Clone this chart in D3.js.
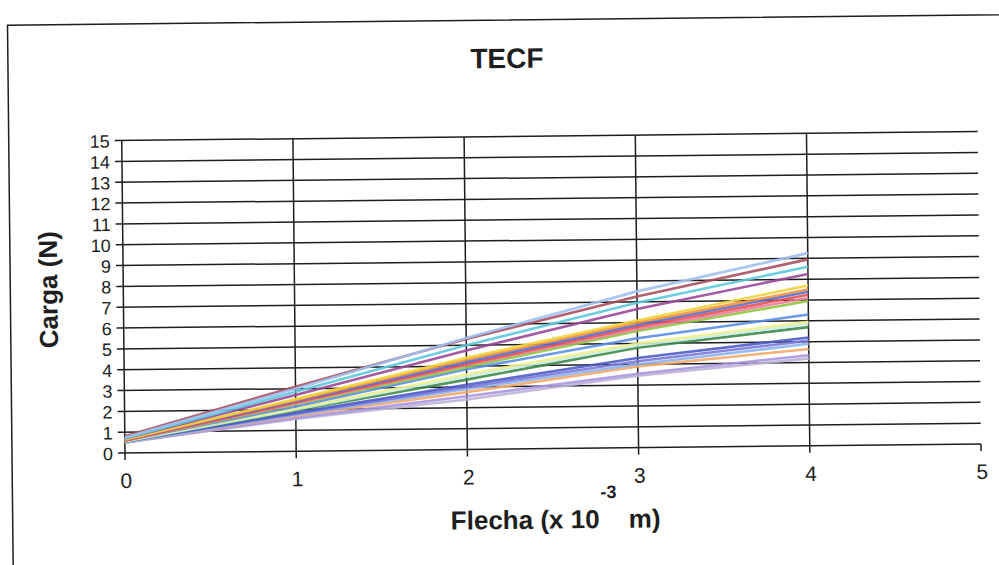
<!DOCTYPE html>
<html>
<head>
<meta charset="utf-8">
<script src="https://cdn.jsdelivr.net/npm/d3@7"></script>
<style>
	html, body { margin: 0; padding: 0; background: #fff; }
	svg { display: block; font-family: "Liberation Sans", Arial, sans-serif; }
</style>
</head>
<body>
<svg width="999" height="565"></svg>
<script>
(function(){
	'use strict';

	// Flecha (x 10^-3 m) at which each test was read
	const flecha = [0, 1, 2, 3, 4];

	// Carga (N) per specimen
	const cargas = [
		[0.75, 3.00, 5.35, 7.50, 9.25],
		[0.80, 3.10, 5.30, 7.25, 8.95],
		[0.70, 2.85, 5.00, 6.95, 8.60],
		[0.70, 2.70, 4.75, 6.65, 8.25],
		[0.65, 2.50, 4.40, 6.10, 7.70],
		[0.65, 2.45, 4.30, 6.00, 7.50],
		[0.65, 2.40, 4.20, 5.90, 7.40],
		[0.60, 2.35, 4.10, 5.80, 7.25],
		[0.60, 2.30, 4.05, 5.70, 7.10],
		[0.60, 2.25, 3.95, 5.60, 6.95],
		[0.60, 2.15, 3.85, 5.25, 6.30],
		[0.60, 2.05, 3.60, 5.00, 5.95],
		[0.55, 2.00, 3.50, 4.90, 5.85],
		[0.55, 1.95, 3.35, 4.80, 5.70],
		[0.55, 1.85, 3.10, 4.30, 5.20],
		[0.55, 1.80, 3.00, 4.15, 5.05],
		[0.50, 1.75, 2.90, 4.00, 4.90],
		[0.50, 1.70, 2.75, 3.90, 4.65],
		[0.50, 1.60, 2.55, 3.55, 4.35],
		[0.50, 1.55, 2.40, 3.45, 4.20]
	];

	const xTicks = [0, 1, 2, 3, 4, 5];
	const yTicks = d3.range(0, 16);

	const lineColors = [
		'#9fc0ee', '#a85060', '#5cc8dc', '#9a4896', '#f2d23c',
		'#f4903c', '#4a70e0', '#e8504c', '#f27aa0', '#8cc83c',
		'#5a8ee8', '#eef08c', '#c8ecec', '#3e8a4a', '#4e5cc8',
		'#7a78d8', '#8cb4f0', '#f4a868', '#a896e0', '#beb2d6'
	];

	const svg = d3.select('svg');
	const left = 125;
	const right = 981;
	const top = 140.5;
	const bottom = 453;
	const ink = '#1e1e1e';

	// the scan is slightly tilted
	const g = svg
		.append('g')
			.attr('transform', `rotate(-0.6, ${left}, ${bottom})`);

	g.append('rect')
		.attr('x', 12)
		.attr('y', 24)
		.attr('width', 1300)
		.attr('height', 800)
		.attr('fill', 'none')
		.attr('stroke', ink)
		.attr('stroke-width', 1.5);

	const x = d3.scaleLinear()
		.domain([0, 5])
		.range([left, right]);

	const y = d3.scaleLinear()
		.domain([0, 15])
		.range([bottom, top]);

	// horizontal grid
	g.append('g')
		.selectAll('line')
		.data(yTicks)
		.join('line')
			.attr('x1', left - 7)
			.attr('x2', right)
			.attr('y1', d => y(d))
			.attr('y2', d => y(d))
			.attr('stroke', ink)
			.attr('stroke-width', 1.5);

	// vertical grid (axis at 0, nothing at 5)
	g.append('g')
		.selectAll('line')
		.data(xTicks.slice(0, 5))
		.join('line')
			.attr('x1', d => x(d))
			.attr('x2', d => x(d))
			.attr('y1', top)
			.attr('y2', bottom + 7)
			.attr('stroke', ink)
			.attr('stroke-width', 1.5);

	g.append('line')
		.attr('x1', x(5))
		.attr('x2', x(5))
		.attr('y1', bottom)
		.attr('y2', bottom + 7)
		.attr('stroke', ink)
		.attr('stroke-width', 1.5);

	const line = d3.line()
		.x((d, i) => x(flecha[i]))
		.y(d => y(d));

	g.append('g')
		.selectAll('path')
		.data(cargas.slice().reverse())
		.join('path')
			.attr('d', line)
			.attr('fill', 'none')
			.attr('stroke', (d, i) => lineColors[cargas.length - 1 - i])
			.attr('stroke-width', 2.6)
			.attr('stroke-opacity', 0.9);

	g.append('g')
		.selectAll('text')
		.data(yTicks)
		.join('text')
			.attr('x', 113)
			.attr('y', d => y(d) + 7)
			.attr('text-anchor', 'end')
			.attr('font-size', 18)
			.attr('fill', ink)
			.text(d => d);

	g.append('g')
		.selectAll('text')
		.data(xTicks)
		.join('text')
			.attr('x', d => x(d) + 1)
			.attr('y', 488)
			.attr('text-anchor', 'middle')
			.attr('font-size', 21)
			.attr('fill', ink)
			.text(d => d);

	g.append('text')
		.attr('x', 511)
		.attr('y', 72)
		.attr('text-anchor', 'middle')
		.attr('font-size', 28)
		.attr('font-weight', 'bold')
		.attr('fill', ink)
		.text('TECF');

	g.append('text')
		.attr('transform', 'translate(59, 289) rotate(-90)')
		.attr('text-anchor', 'middle')
		.attr('font-size', 26)
		.attr('font-weight', 'bold')
		.attr('fill', ink)
		.text('Carga (N)');

	g.append('text')
		.attr('x', 450)
		.attr('y', 533)
		.attr('font-size', 26)
		.attr('font-weight', 'bold')
		.attr('fill', ink)
		.text('Flecha (x 10');

	g.append('text')
		.attr('x', 600)
		.attr('y', 503)
		.attr('font-size', 18)
		.attr('font-weight', 'bold')
		.attr('fill', ink)
		.text('-3');

	g.append('text')
		.attr('x', 628)
		.attr('y', 533)
		.attr('font-size', 26)
		.attr('font-weight', 'bold')
		.attr('fill', ink)
		.text('m)');
})();
</script>
</body>
</html>
